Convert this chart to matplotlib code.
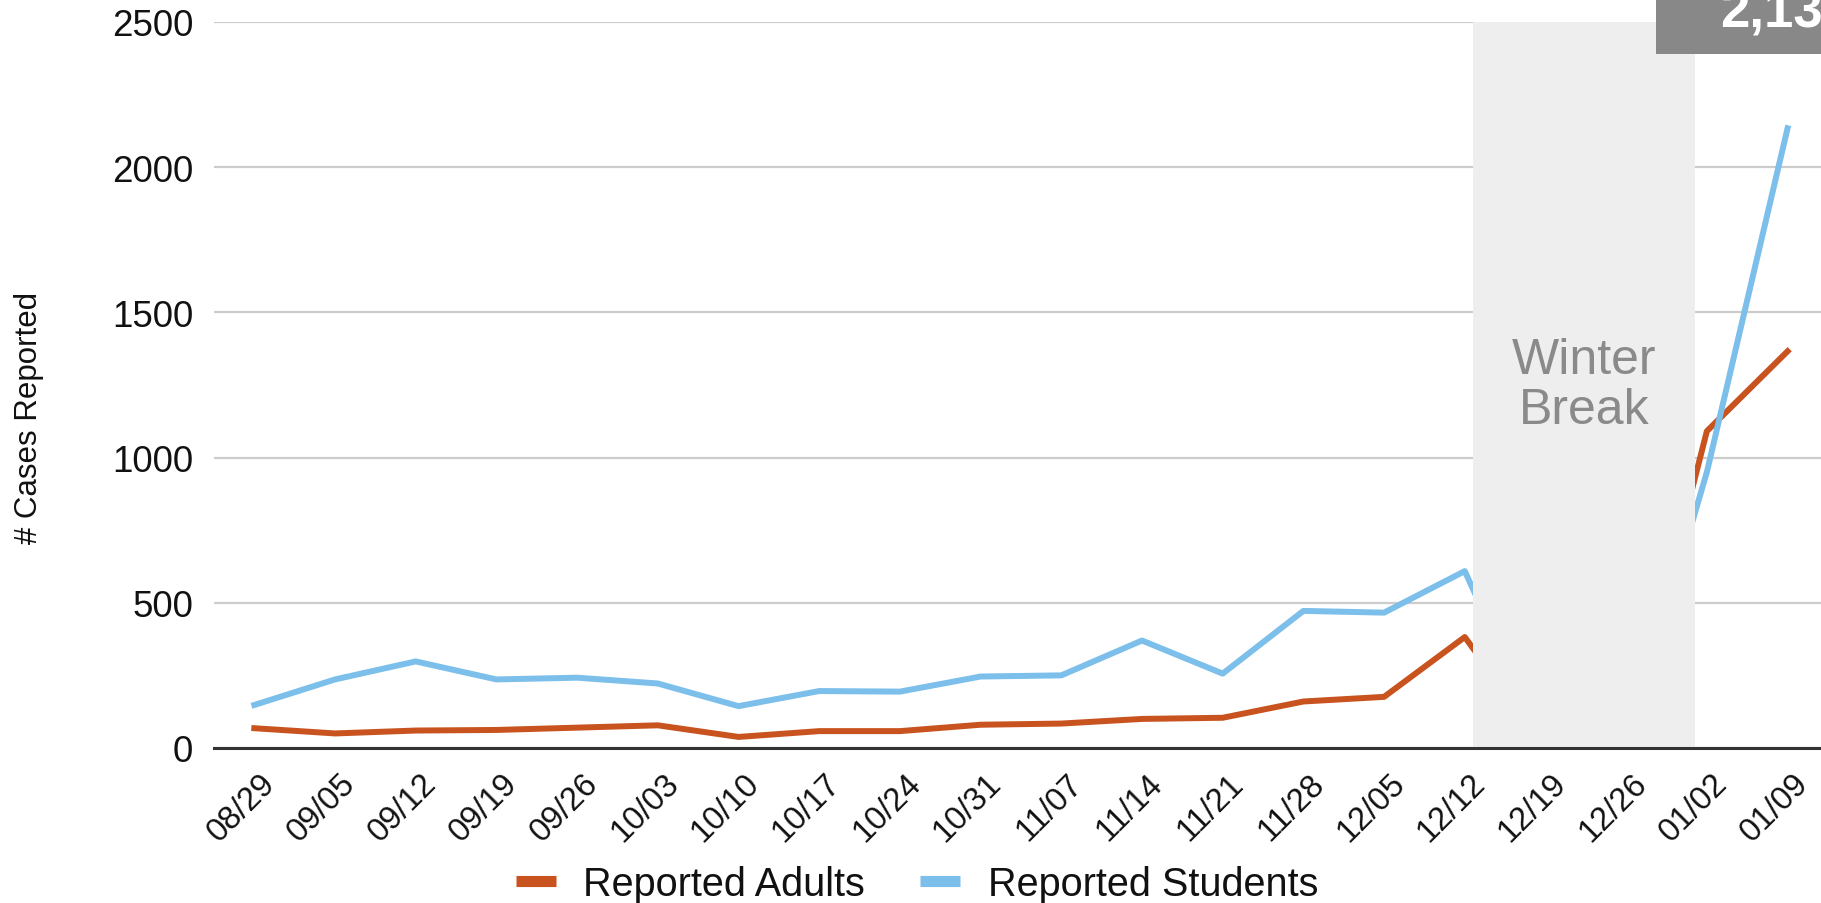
import matplotlib
matplotlib.use("Agg")
import matplotlib.pyplot as plt
from matplotlib.patches import Rectangle
from matplotlib.lines import Line2D
from matplotlib.transforms import ScaledTranslation

plt.rcParams["font.family"] = ["Liberation Sans", "DejaVu Sans"]

# weekly reported cases (12/19 and 12/26 fall in winter break)
weeks = ["08/29", "09/05", "09/12", "09/19", "09/26", "10/03", "10/10",
         "10/17", "10/24", "10/31", "11/07", "11/14", "11/21", "11/28",
         "12/05", "12/12", "12/19", "12/26", "01/02", "01/09"]
adults = [68, 50, 60, 62, 70, 78, 38, 58, 58, 80, 84, 100, 104, 160,
          176, 382, 0, 0, 1091, 1366]
students = [148, 236, 298, 236, 242, 222, 144, 196, 194, 246, 250, 370,
            256, 472, 466, 609, 0, 0, 950, 2134]

y_ticks = [0, 500, 1000, 1500, 2000, 2500]
break_span = (15.1, 17.85)
peak_label = "2,134"

orange = "#c8531f"
blue = "#7bbfea"

fig = plt.figure(figsize=(18.21, 9.04), dpi=100)
ax = fig.add_axes([0.1175, 0.1715, 0.8863, 0.8031])

x = list(range(len(weeks)))
ax.plot(x, adults, color=orange, lw=4.3, label="Reported Adults", zorder=3)
ax.plot(x, students, color=blue, lw=4.3, label="Reported Students", zorder=3)

# winter break shading sits on top of the lines
ax.add_patch(Rectangle((break_span[0], 0), break_span[1] - break_span[0], 2500,
                       facecolor="#eeeeee", edgecolor="none", zorder=4))
ax.text(sum(break_span) / 2, 1250, "Winter\nBreak", ha="center", va="center",
        fontsize=36, color="#8a8a8a", linespacing=1.12, zorder=5)

ax.set_xlim(-0.5, 19.5)
ax.set_ylim(0, 2500)
ax.set_yticks(y_ticks)
ax.set_yticklabels([str(v) for v in y_ticks], fontsize=26.5, color="#111111")
ax.set_xticks(x)
ax.set_xticklabels(weeks, rotation=45, ha="right", va="center",
                   rotation_mode="anchor", fontsize=23.5, color="#111111")
ax.tick_params(axis="both", length=0)
ax.tick_params(axis="y", pad=15)
ax.tick_params(axis="x", pad=22)
# label end sits a bit right of its tick
shift = ScaledTranslation(16 / 100, 0, fig.dpi_scale_trans)
for lbl in ax.get_xticklabels():
    lbl.set_transform(lbl.get_transform() + shift)

ax.grid(axis="y", color="#cccccc", lw=1.6, zorder=1)
ax.set_axisbelow(True)
for s in ["top", "right", "left"]:
    ax.spines[s].set_visible(False)
ax.spines["bottom"].set_color("#333333")
ax.spines["bottom"].set_linewidth(2.2)
ax.spines["bottom"].set_zorder(6)

fig.text(29 / 1821, 1 - 418 / 904, "# Cases Reported", rotation=90,
         ha="center", va="center", fontsize=22.5, color="#111111")

# gray data label box at top right (cut off by the frame)
fig.patches.append(Rectangle((1656 / 1821, 1 - 55 / 904), 0.2, 0.2,
                             transform=fig.transFigure, facecolor="#888888",
                             edgecolor="none", zorder=10))
fig.text(1720 / 1821, 1 - 28 / 904, peak_label, ha="left", va="baseline",
         fontsize=38, fontweight="bold", color="white", zorder=11)

handles = [Line2D([], [], color=orange, lw=8, solid_capstyle="butt"),
           Line2D([], [], color=blue, lw=8, solid_capstyle="butt")]
fig.legend(handles, ["Reported Adults", "Reported Students"], loc="center",
           bbox_to_anchor=(0.5036, 1 - 885 / 904), ncol=2, frameon=False,
           fontsize=28.5, handlelength=1.0, handletextpad=0.7,
           columnspacing=1.4, labelcolor="#111111")

fig.savefig("out.png", dpi=100)
